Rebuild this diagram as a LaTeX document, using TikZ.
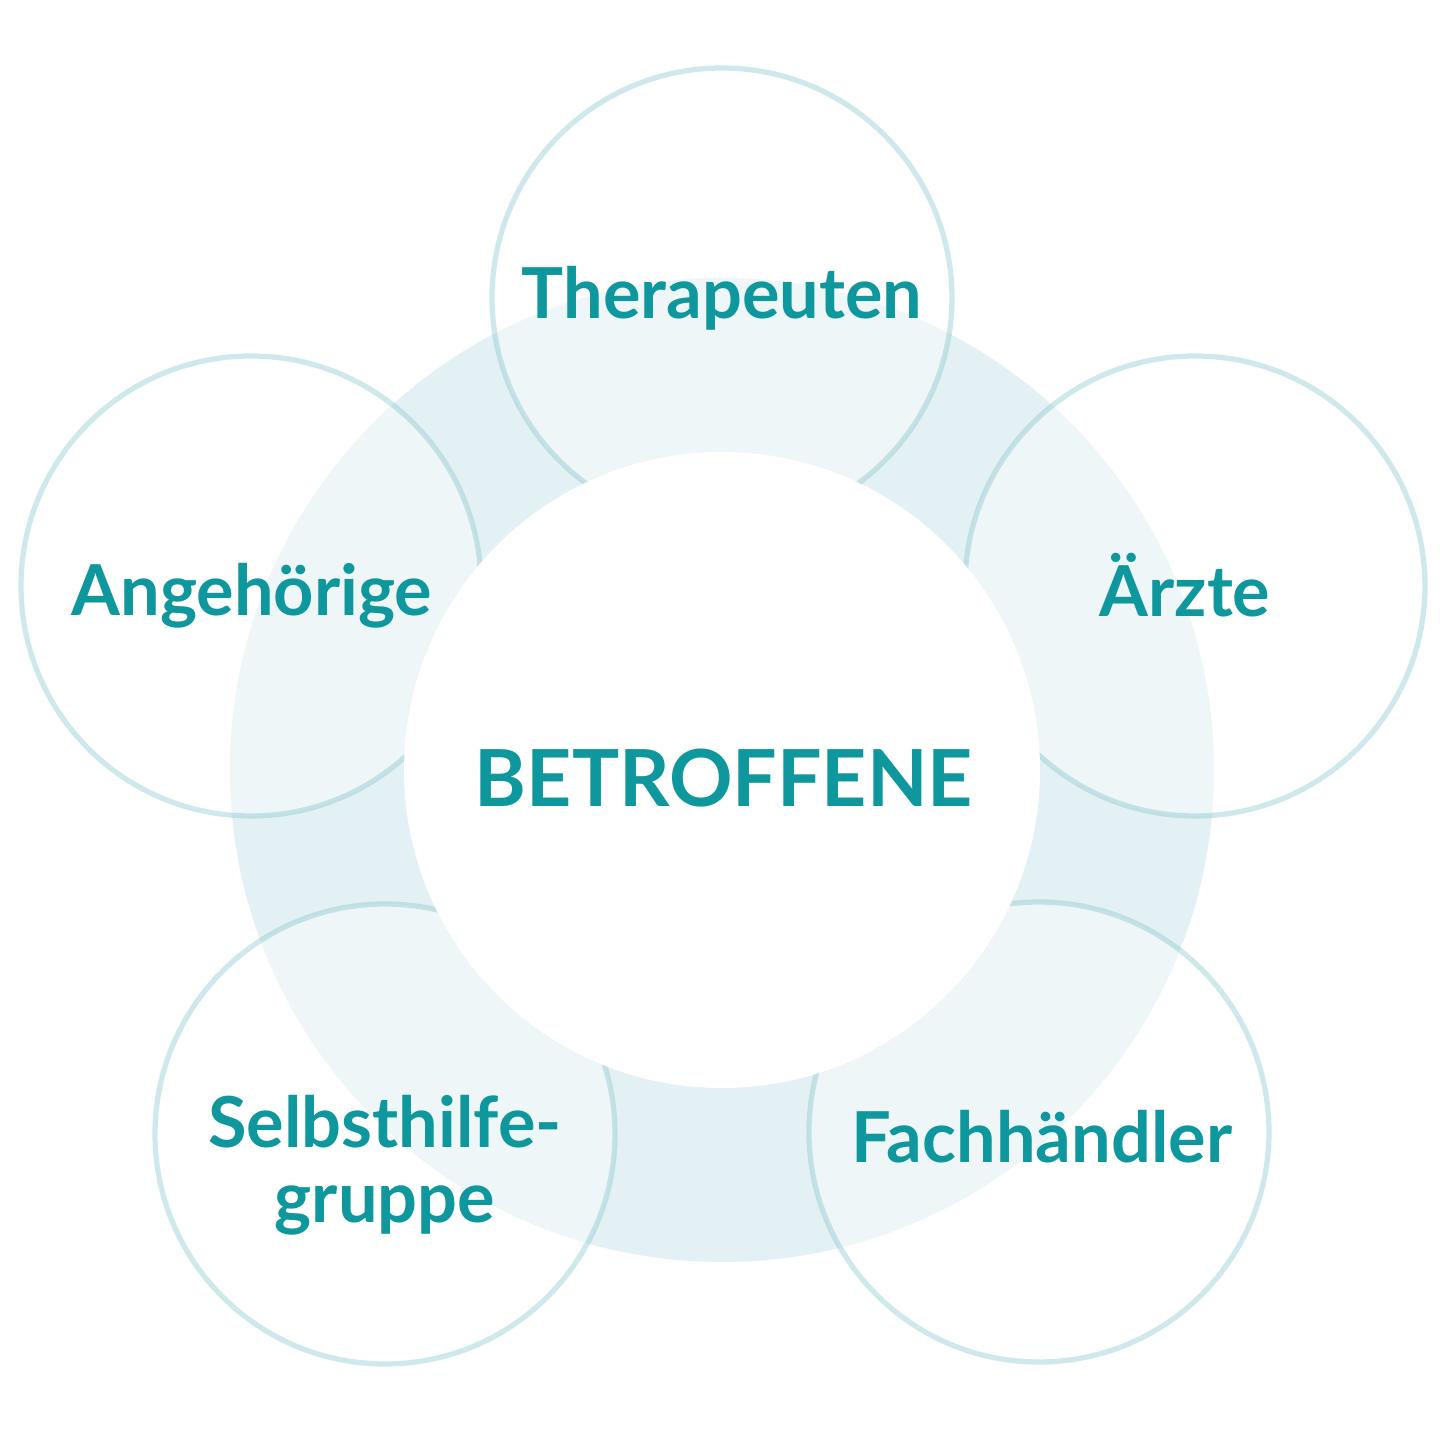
\documentclass[tikz,border=0pt]{standalone}
\usepackage{fontspec}
\setmainfont{Lato}
\definecolor{ringblue}{HTML}{E4F1F4}
\definecolor{petrol}{HTML}{0E979D}
\definecolor{rimline}{HTML}{78BEC6}
\begin{document}
\begin{tikzpicture}
			[every circle node/.style={inner sep=0pt},
			ring/.style={circle,fill=ringblue,minimum size=9.84cm},
			petal/.style={circle,draw=rimline,draw opacity=0.35,line width=1.5pt,fill=white,fill opacity=0.4,minimum size=4.6cm},
			hub/.style={circle,fill=white,minimum size=6.36cm},
			lbl/.style={anchor=base,text=petrol,font=\bfseries\fontsize{20}{21.5}\selectfont}]
			\fill[white] (0,0) rectangle (14.4,14.4);
			\node[ring] (R) at (7.22,6.70) {};
			\node[petal] (T) at (7.22,11.42) {};
			\node[petal] (Ae) at (11.95,8.54) {};
			\node[petal] (A) at (2.51,8.54) {};
			\node[petal] (F) at (10.39,3.08) {};
			\node[petal] (S) at (3.85,3.06) {};
			\node[hub] (B) at (7.22,6.70) {};
			\node[lbl,font=\bfseries\fontsize{22.4}{26}\selectfont] (b) at (7.24,6.33) {BETROFFENE};
			\node[lbl] (t) at (7.22,11.21) {Therapeuten};
			\node[lbl] (ae) at (11.85,8.23) {Ärzte};
			\node[lbl] (a) at (2.52,8.24) {Angehörige};
			\node[lbl] (f) at (10.42,2.77) {Fachhändler};
			\node[lbl,align=center] (s) at (3.85,2.17) {Selbsthilfe-\\gruppe};
\end{tikzpicture}
\end{document}
